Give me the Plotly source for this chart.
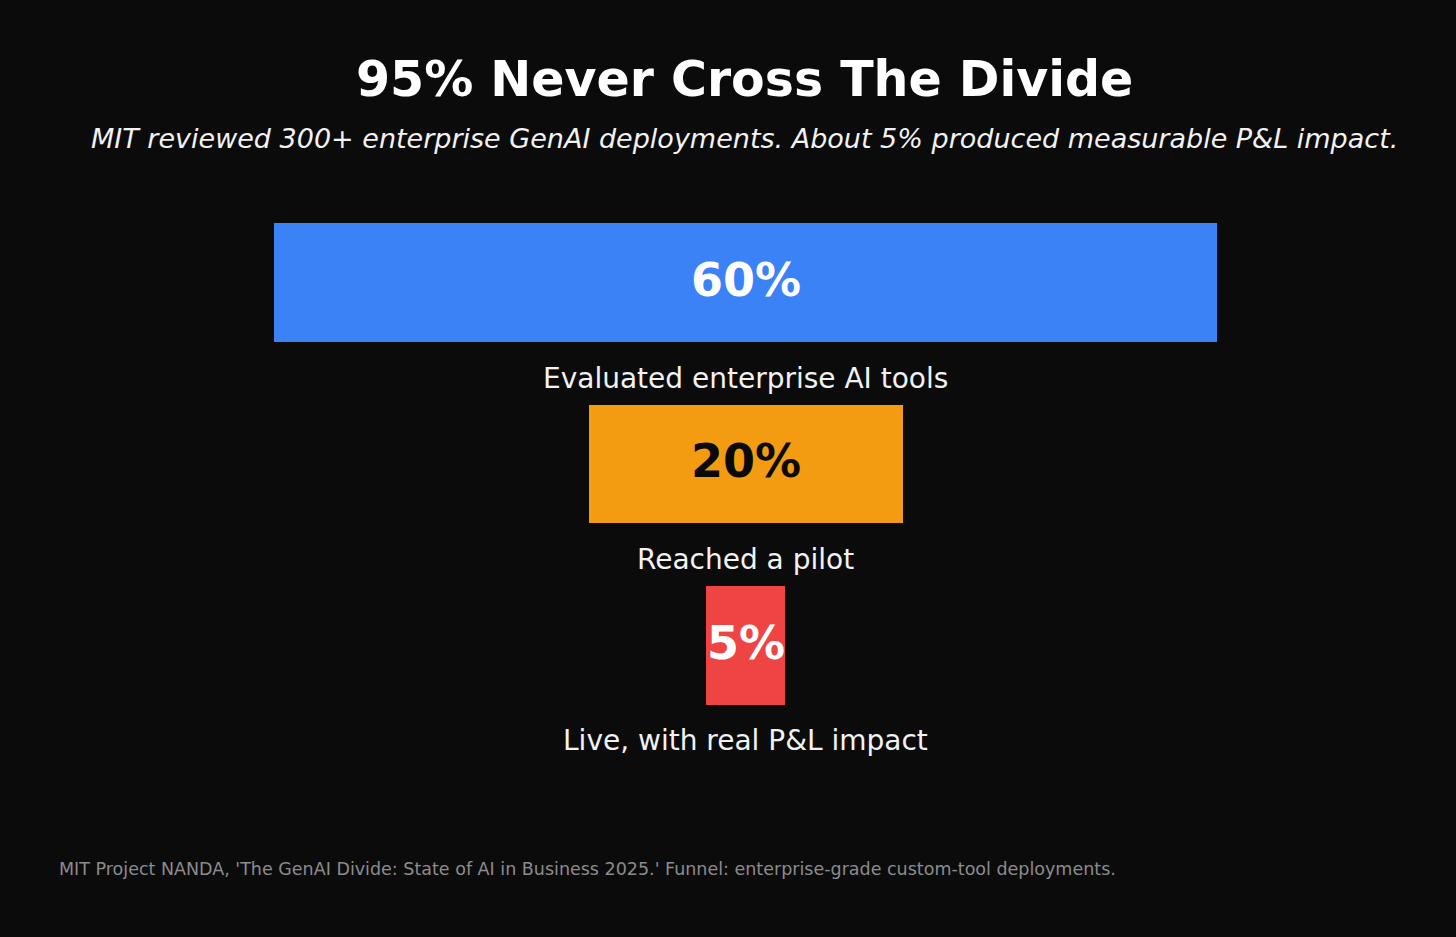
import plotly.graph_objects as go

# ---- data ----
stages = ["Evaluated enterprise AI tools", "Reached a pilot", "Live, with real P&L impact"]
values = [60, 20, 5]
value_labels = ["60%", "20%", "5%"]
bar_colors = ["#3b82f6", "#f39c12", "#ef4444"]
text_colors = ["#ffffff", "#0a0a0a", "#ffffff"]

title = "95% Never Cross The Divide"
subtitle = "MIT reviewed 300+ enterprise GenAI deployments. About 5% produced measurable P&L impact."
footer = "MIT Project NANDA, 'The GenAI Divide: State of AI in Business 2025.' Funnel: enterprise-grade custom-tool deployments."

BG = "#0b0b0b"
FONT = "DejaVu Sans"
W, H = 1456, 937

ypos = list(range(len(stages)))

# layout geometry (pixels)
STEP = 181.5          # px per category
TOP = 191.5           # plot area top
Y_LO, Y_HI = -0.5, 2.9
PLOT_H = (Y_HI - Y_LO) * STEP
BOTTOM = TOP + PLOT_H


def py(pix):
    """pixel row -> paper y"""
    return (BOTTOM - pix) / PLOT_H


fig = go.Figure()
fig.add_trace(go.Bar(
    y=ypos,
    x=values,
    base=[-v / 2 for v in values],
    orientation="h",
    marker=dict(color=bar_colors, line=dict(width=0)),
    width=0.653,
    hoverinfo="skip",
    showlegend=False,
))

annotations = []
for i, (lab, vl, tc) in enumerate(zip(stages, value_labels, text_colors)):
    annotations.append(dict(
        x=0, y=i - 0.015, xref="x", yref="y", text=f"<b>{vl}</b>", showarrow=False,
        font=dict(family=FONT, size=46, color=tc), xanchor="center", yanchor="middle",
    ))
    annotations.append(dict(
        x=0, y=i + 0.525, xref="x", yref="y", text=lab, showarrow=False,
        font=dict(family=FONT, size=28, color="#f2f2f2"), xanchor="center", yanchor="middle",
    ))

cx = 745 / W
annotations.append(dict(
    x=cx, y=py(79), xref="paper", yref="paper", text=f"<b>{title}</b>", showarrow=False,
    font=dict(family=FONT, size=49, color="#ffffff"), xanchor="center", yanchor="middle",
))
annotations.append(dict(
    x=cx, y=py(138), xref="paper", yref="paper", text=f"<i>{subtitle}</i>", showarrow=False,
    font=dict(family=FONT, size=27, color="#f2f2f2"), xanchor="center", yanchor="middle",
))
annotations.append(dict(
    x=57 / W, y=py(869), xref="paper", yref="paper", text=footer, showarrow=False,
    font=dict(family=FONT, size=17.5, color="#8c8c8c"), xanchor="left", yanchor="middle",
))

scale = 15.72
xl = -745.75 / scale
xr = (W - 745.75) / scale

fig.update_layout(
    width=W, height=H,
    paper_bgcolor=BG, plot_bgcolor=BG,
    margin=dict(l=0, r=0, t=TOP, b=H - BOTTOM),
    xaxis=dict(range=[xl, xr], visible=False, fixedrange=True),
    yaxis=dict(range=[Y_HI, Y_LO], visible=False, fixedrange=True),
    annotations=annotations,
    bargap=0,
)

fig.write_html("out.html")
